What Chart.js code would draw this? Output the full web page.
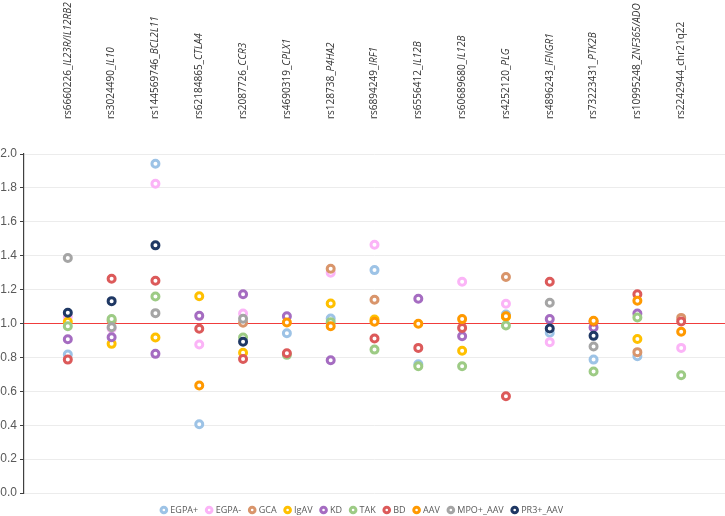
<!DOCTYPE html>
<html>
<head>
<meta charset="utf-8">
<script src="https://cdn.jsdelivr.net/npm/chart.js@4.4.1/dist/chart.umd.min.js"></script>
<style>
  html, body { margin: 0; padding: 0; background: #fff; }
  #wrap { width: 725px; height: 516px; }
</style>
</head>
<body>
<div id="wrap"><canvas id="snp-chart" width="725" height="516"></canvas></div>
<script>
// SNP labels (id + gene, gene part in italic)
const snpIds = ['rs6660226_', 'rs3024490_', 'rs144569746_', 'rs62184865_', 'rs2087726_', 'rs4690319_',
    'rs128738_', 'rs6894249_', 'rs6556412_', 'rs60689680_', 'rs4252120_', 'rs4896243_',
    'rs73223431_', 'rs10995248_', 'rs2242944_chr21q22'];
const snpGenes = ['IL23R/IL12RB2', 'IL10', 'BCL2L11', 'CTLA4', 'CCR3', 'CPLX1',
    'P4HA2', 'IRF1', 'IL12B', 'IL12B', 'PLG', 'IFNGR1',
    'PTK2B', 'ZNF365/ADO', ''];

const yTicks = [0.0, 0.2, 0.4, 0.6, 0.8, 1.0, 1.2, 1.4, 1.6, 1.8, 2.0];
const refValue = 1.0;

// one value per SNP, null = no point
const egpaPos = [0.817, null, 1.943, 0.406, null, 0.943, 1.03, 1.315, 0.76, null, 1.053, 0.945, 0.787, 0.807, null];
const egpaNeg = [1.04, 0.97, 1.824, 0.876, 1.059, null, 1.30, 1.465, null, 1.246, 1.116, 0.89, null, null, 0.856];
const gca     = [null, 1.016, null, null, 1.004, null, 1.323, 1.14, null, null, 1.274, null, null, 0.831, 1.033];
const igav    = [1.01, 0.88, 0.917, 1.161, 0.827, null, 1.118, 1.024, null, 0.839, 1.04, null, null, 0.909, null];
const kd      = [0.907, 0.919, 0.821, 1.045, 1.173, 1.043, 0.783, null, 1.146, 0.925, null, 1.026, 0.976, 1.059, null];
const tak     = [0.984, 1.026, 1.159, null, 0.917, 0.815, 1.008, 0.846, 0.748, 0.748, 0.988, null, 0.717, 1.035, 0.695];
const bd      = [0.787, 1.264, 1.252, 0.969, 0.791, 0.825, null, 0.911, 0.856, 0.974, 0.571, 1.246, 1.01, 1.173, 1.012];
const aav     = [null, null, null, 0.634, null, 1.006, 0.984, 1.01, 0.998, 1.026, 1.043, null, 1.016, 1.134, 0.951];
const mpoAav  = [1.386, 0.978, 1.061, null, 1.028, null, null, null, null, null, null, 1.122, 0.864, null, null];
const pr3Aav  = [1.063, 1.132, 1.461, null, 0.892, null, null, null, null, null, null, 0.97, 0.927, null, null];

const seriesNames = ['EGPA+', 'EGPA-', 'GCA', 'IgAV', 'KD', 'TAK', 'BD', 'AAV', 'MPO+_AAV', 'PR3+_AAV'];
const seriesData = [egpaPos, egpaNeg, gca, igav, kd, tak, bd, aav, mpoAav, pr3Aav];
const seriesColors = ['#9dc3e6', '#fbb4f7', '#d9956b', '#ffc000', '#a56cc1', '#9dcb85', '#dc5a5a', '#ff9900', '#a5a5a5', '#1f3864'];

// empty slot at each end so the points sit between the axis and the right edge
const labels = [''].concat(snpIds.map((s, i) => s + snpGenes[i]), ['']);

const datasets = seriesNames.map((name, i) => ({
    label: name,
    data: [null].concat(seriesData[i], [null]),
    showLine: false,
    pointStyle: 'circle',
    pointRadius: 3.5,
    pointBorderWidth: 3,
    pointBorderColor: seriesColors[i],
    pointBackgroundColor: '#ffffff',
    borderColor: seriesColors[i],
    backgroundColor: '#ffffff',
    order: seriesNames.length - i
}));

datasets.push({
    label: 'ref',
    data: labels.map(() => refValue),
    borderColor: '#f03c3c',
    borderWidth: 1.2,
    pointRadius: 0,
    order: 99
});

// top labels: rotated, gene name in italic
const topLabels = {
    id: 'topLabels',
    afterDraw(chart) {
        const ctx = chart.ctx;
        const x = chart.scales.x;
        ctx.save();
        ctx.fillStyle = '#333333';
        ctx.textBaseline = 'middle';
        ctx.textAlign = 'left';
        snpIds.forEach((id, i) => {
            const px = x.getPixelForValue(i + 1);
            ctx.save();
            ctx.translate(px, 119);
            ctx.rotate(-Math.PI / 2);
            ctx.font = '10px "Open Sans", sans-serif';
            ctx.fillText(id, 0, 0);
            const w = ctx.measureText(id).width;
            ctx.font = 'italic 10px "Open Sans", sans-serif';
            ctx.fillText(snpGenes[i], w, 0);
            ctx.restore();
        });
        ctx.restore();
    }
};

const ctx = document.getElementById('snp-chart').getContext('2d');
new Chart(ctx, {
    type: 'line',
    data: { labels: labels, datasets: datasets },
    options: {
        responsive: false,
        animation: false,
        devicePixelRatio: 1,
        layout: { autoPadding: false, padding: { top: 154, left: 0, right: 0, bottom: 0 } },
        scales: {
            x: {
                display: false,
                offset: false
            },
            y: {
                min: 0,
                max: 2,
                afterBuildTicks: (scale) => { scale.ticks = yTicks.map(v => ({ value: v })); },
                afterFit: (scale) => { scale.width = 24; },
                ticks: {
                    callback: v => Number(v).toFixed(1),
                    color: '#595959',
                    font: { family: '"Liberation Sans", Arial, sans-serif', size: 12 },
                    padding: 3
                },
                grid: {
                    color: '#ececec',
                    tickColor: '#404040',
                    tickLength: 4
                },
                border: { color: '#404040', width: 1.2 }
            }
        },
        plugins: {
            tooltip: { enabled: false },
            legend: {
                position: 'bottom',
                maxHeight: 23,
                title: { display: true, text: ' ', padding: 0, font: { size: 3.5, lineHeight: 1 } },
                labels: {
                    usePointStyle: true,
                    boxWidth: 4,
                    boxHeight: 4,
                    padding: 9,
                    color: '#595959',
                    font: { family: '"Open Sans", sans-serif', size: 9 },
                    filter: item => item.text !== 'ref',
                    sort: (a, b) => a.datasetIndex - b.datasetIndex
                }
            }
        }
    },
    plugins: [topLabels]
});
</script>
</body>
</html>
